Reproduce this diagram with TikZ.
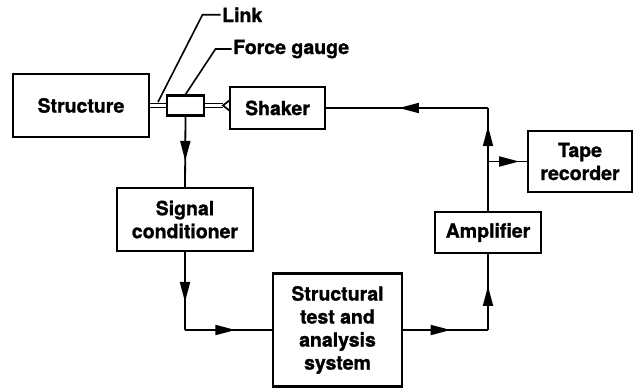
\documentclass[tikz,border=0pt]{standalone}
\usepackage{fontspec}
\setmainfont{TeX Gyre Heros}[BoldFeatures={FakeBold=1.2}]
\usetikzlibrary{arrows.meta,decorations.markings,calc}

\begin{document}
\begin{tikzpicture}[x=1pt,y=-1pt,
	blk/.style={draw,line width=2.2pt,inner sep=0pt,align=center,font=\bfseries\fontsize{19.5}{23}\selectfont},
	lbl/.style={inner sep=1.5pt,font=\bfseries\fontsize{19.5}{23}\selectfont},
	wire/.style={line width=1.8pt},
	midarrow/.style={wire,postaction={decorate},decoration={markings,mark=at position #1 with {\arrow{Triangle[length=20pt,width=10pt]}}}},
	rod/.style={double,double distance=2.4pt,line width=1.7pt}]
			\useasboundingbox (0,0) rectangle (633,389);
			\foreach \x/\y/\w/\h/\n/\gt in {81/105.5/136/63/structure/{Structure},277.5/108/95/42/shaker/{Shaker},580/161.5/104/61/tape/{Tape\\recorder},488/232.5/106/41/amp/{Amplifier},185/219.5/136/63/signal/{Signal\\conditioner},337.5/330/129/113/stas/{Structural\\test and\\analysis\\system}}
				\node[blk,minimum width=\w pt,minimum height=\h pt] (\n) at (\x,\y) {\gt};
			\node[draw,line width=2.2pt,minimum width=37pt,minimum height=20pt,inner sep=0pt] (gauge) at (185.5,105.5) {};
			\node[lbl,anchor=base west] (link) at (220.5,22) {Link};
			\node[lbl,anchor=base west] (fg) at (231.5,54) {Force gauge};
			% junctions
			\coordinate (c1) at (signal.south |- stas.west);
			\coordinate (c2) at (amp.south |- stas.east);
			\coordinate (branch) at (amp.north |- tape.west);
			\coordinate (corner) at (amp.north |- shaker.east);
			\coordinate (cup) at (223,105.5);
			\coordinate (linkend) at (158,102);
			% rods and leaders
			\draw[rod] (structure.east) -- (gauge.west);
			\draw[rod] (gauge.east) -- (cup);
			\draw[line width=1.7pt] ($(cup)+(7,-5.5)$) -- (cup) -- ($(cup)+(7,5.5)$);
			\draw[line width=1.6pt] (link.west) -- ++(-18,0) -- (linkend);
			\draw[line width=1.6pt] (fg.west) -- ++(-16,0) -- (gauge.north);
			% signal path
			\foreach \a/\b/\p in {gauge.south/signal.north/0.63,signal.south/c1/0.64,c1/stas.west/0.58,stas.east/c2/0.56,c2/amp.south/0.58,branch/corner/0.66,corner/shaker.east/0.55,branch/tape.west/0.8}
				\draw[midarrow=\p] (\a) -- (\b);
			\draw[wire] (amp.north) -- (branch);
		\end{tikzpicture}
\end{document}
